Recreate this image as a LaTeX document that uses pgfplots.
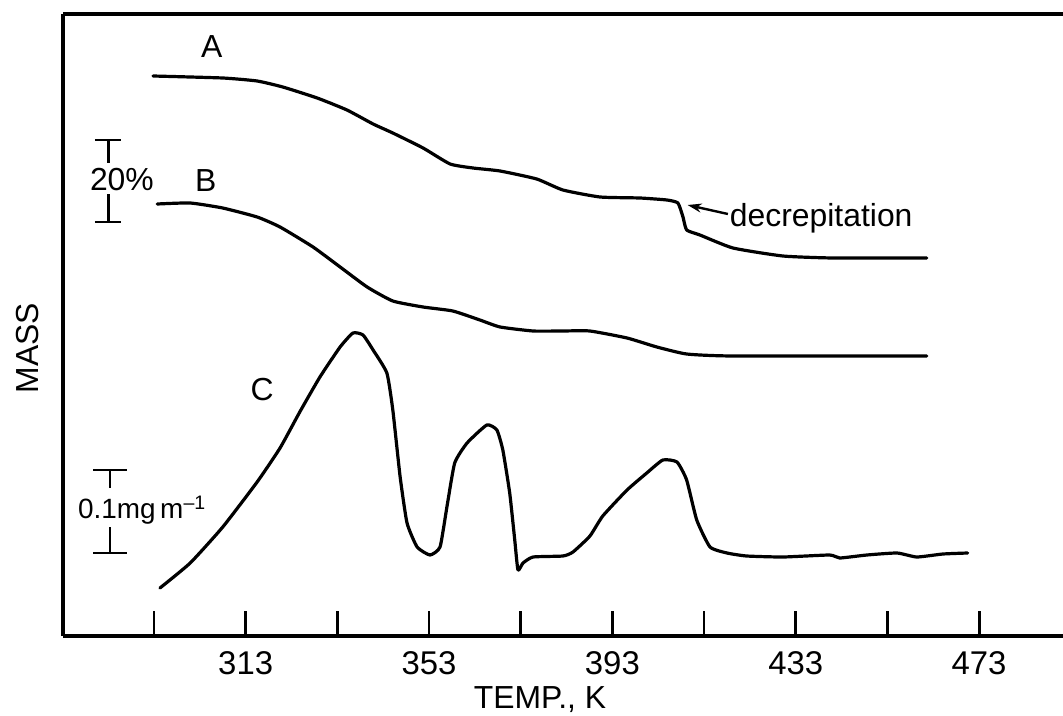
\documentclass[border=0pt]{standalone}
\usepackage{pgfplots}
\pgfplotsset{compat=1.18}
\usepackage{fontspec}
\setmainfont{Liberation Sans}
\usetikzlibrary{arrows.meta}
\pgfplotsset{curve/.style={black, no markers, line width=3.2bp, line join=round, line cap=round, smooth, tension=0.3}}
\begin{document}
\fontsize{32}{36}\selectfont
\begin{tikzpicture}
\useasboundingbox (0,0) rectangle (1063bp,716bp);
\begin{axis}[
  at={(63bp,80bp)}, anchor=south west,
  width=1000bp, height=622bp, scale only axis,
  xmin=273.15, xmax=491.3, ymin=14, ymax=636, y dir=reverse,
  axis x line*=box, axis y line*=left,
  axis line style={-, line width=3.4bp, black},
  ytick=\empty,
  xtick={293,313,...,473},
  xticklabels={,313,,353,,393,,433,,473},
  xtick pos=left,
  tick align=inside,
  major tick length=25bp,
  major tick style={line width=2.8bp, black},
  xticklabel style={font=\fontsize{33}{36}\selectfont, yshift=-5bp},
  clip=false,
]
% Curve A
\addplot[curve] coordinates {
(292.8,76) (308.0,78) (315.5,81) (321.1,87) (328.6,98) (335.1,110) (340.8,124)
(345.1,133) (351.7,148) (357.6,164) (362.6,168) (368.5,171) (376.5,179) (382.2,190)
(390.3,197) (399.0,198) (404.9,200) (407.3,203) (408.4,217) (409.2,230) (412.1,235)
(419.3,248) (430.2,256) (441.1,258) (461.6,258)
};
% Curve B
\addplot[curve] coordinates {
(293.7,204) (300.9,203) (308.0,208) (315.5,217) (320.5,227) (327.7,247) (333.6,267)
(339.5,287) (345.1,301) (351.7,307) (358.2,311) (364.1,320) (368.5,327) (375.7,331)
(382.0,331) (388.1,331) (396.2,338) (402.7,347) (409.2,354) (419.3,356) (461.6,356)
};
% Curve C
\addplot[curve] coordinates {
(294.3,588) (300.9,563) (308.0,527) (315.5,482) (320.5,448) (324.8,412) (329.2,377)
(333.6,347) (336.4,333) (338.6,335) (340.8,350) (343.8,373) (345.1,410) (346.7,477)
(348.2,523) (350.4,547) (353.2,555) (355.4,547) (356.9,507) (358.6,463) (361.3,443)
(365.6,425) (367.8,430) (369.1,450) (370.6,493) (371.7,540) (372.4,570) (373.5,563)
(375.7,557) (382.2,556) (384.4,552) (388.1,536) (390.9,516) (396.2,490) (400.5,473)
(404.0,460) (407.1,462) (409.2,480) (411.4,520) (414.3,547) (418.0,553) (422.3,556)
(430.2,557) (440.4,555) (442.6,558) (448.5,555) (455.1,553) (459.4,557) (465.1,554)
(470.5,553)
};
% labels
\node at (axis cs:305.6,47) {A};
\node at (axis cs:304.3,181) {B};
\node at (axis cs:316.6,390) {C};
\node[anchor=west, inner sep=0pt] at (axis cs:418.6,218) {decrepitation};
\draw[line width=2.4bp, -{Stealth[length=14bp,width=9bp]}] (axis cs:418.2,214) -- (axis cs:409.4,205);
% 20% scale bar
\draw[line width=2.8bp] (axis cs:280.1,140) -- (axis cs:285.8,140);
\draw[line width=2.8bp] (axis cs:283.0,140) -- (axis cs:283.0,163);
\draw[line width=2.8bp] (axis cs:283.0,194) -- (axis cs:283.0,222);
\draw[line width=2.8bp] (axis cs:280.1,222) -- (axis cs:285.8,222);
\node at (axis cs:286.0,180) {20\%};
% 0.1 mg scale bar
\draw[line width=2.8bp] (axis cs:279.7,470) -- (axis cs:287.1,470);
\draw[line width=2.8bp] (axis cs:283.4,470) -- (axis cs:283.4,488);
\draw[line width=2.8bp] (axis cs:283.4,527) -- (axis cs:283.4,553);
\draw[line width=2.8bp] (axis cs:279.7,553) -- (axis cs:287.1,553);
\node[anchor=west, inner sep=0pt, font=\fontsize{28}{30}\selectfont] at (axis cs:276.4,510) {0.1mg\,m\textsuperscript{–1}};
% axis labels
\node[rotate=90] at (axis cs:265.5,348) {MASS};
\node at (axis cs:377.2,700) {TEMP., K};
\end{axis}
\end{tikzpicture}
\end{document}
